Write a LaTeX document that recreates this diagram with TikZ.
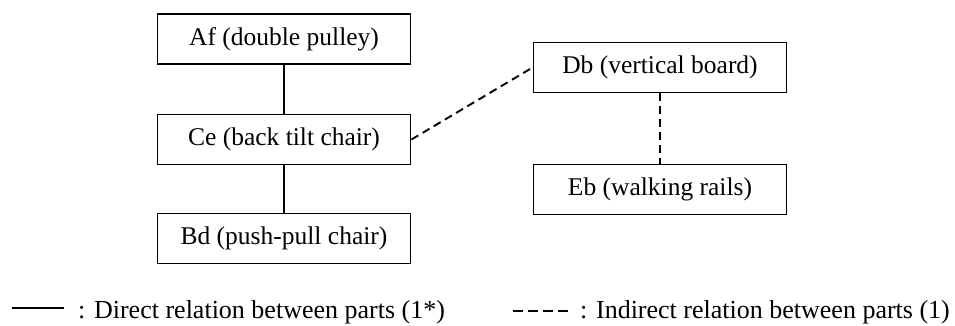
\documentclass[tikz,border=0pt]{standalone}
\usepackage{fontspec}
\setmainfont{Liberation Serif}
\begin{document}
\begin{tikzpicture}[x=1pt,y=-1pt,
  textfont/.style={font=\fontsize{25.5}{30}\selectfont},
  part/.style={draw, line width=1.8pt, minimum width=253pt, minimum height=50pt,
    inner sep=0pt, textfont},
  direct/.style={line width=1.9pt},
  indirect/.style={line width=1.9pt, dash pattern=on 8pt off 5pt},
  legendtext/.style={anchor=base west, inner sep=0pt, font=\fontsize{26}{30}\selectfont}]
\useasboundingbox (0,0) rectangle (955,325);
% parts
\node[part] (af) at (284,39) {Af (double pulley)};
\node[part] (ce) at (284,139.5) {Ce (back tilt chair)};
\node[part] (bd) at (284,238.5) {Bd (push-pull chair)};
\node[part] (db) at (660,67.5) {Db (vertical board)};
\node[part] (eb) at (660,189.5) {Eb (walking rails)};
% relations
\draw[direct] (af) -- (ce);
\draw[direct] (ce) -- (bd);
\draw[indirect] (ce.east) -- (db.west);
\draw[indirect] (db) -- (eb);
% legend
\coordinate (l1a) at (12,308);
\coordinate (l1b) at (64,308);
\draw[direct] (l1a) -- (l1b);
\node[legendtext] (l1t) at (78,318) {: Direct relation between parts (1*)};
\coordinate (l2a) at (513,311);
\coordinate (l2b) at (568,311);
\draw[indirect, dash pattern=on 10pt off 5pt] (l2a) -- (l2b);
\node[legendtext] (l2t) at (580,318) {: Indirect relation between parts (1)};
\end{tikzpicture}
\end{document}
